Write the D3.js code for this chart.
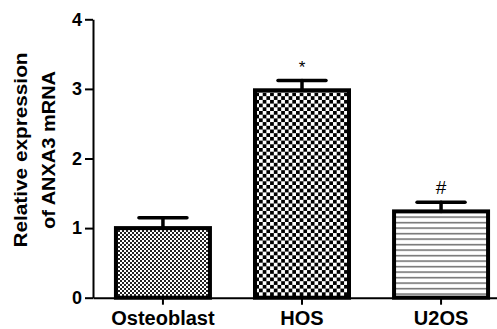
<!DOCTYPE html>
<html>
<head>
<meta charset="utf-8">
<script src="https://cdn.jsdelivr.net/npm/d3@7"></script>
<style>
  html, body { margin: 0; padding: 0; background: #fff; }
  svg { display: block; font-family: 'Liberation Sans', Arial, sans-serif; font-weight: bold; }
</style>
</head>
<body>
<div id="chart"></div>
<script>
// Chart data
var categories = ['Osteoblast', 'HOS', 'U2OS'];
var means = [1.0, 2.98, 1.24];
var errors = [0.15, 0.14, 0.13];
var marks = ['', '*', '#'];
var patterns = ['fine', 'coarse', 'lines'];
var yTicks = [0, 1, 2, 3, 4];
var yLabel = ['Relative expression', 'of ANXA3 mRNA'];

var width = 497;
var height = 329;
var x0 = 93;
var y0 = 297.7;
var fontFamily = "'Liberation Sans', Arial, sans-serif";

var svg = d3.select('#chart')
  .append('svg')
  .attr('width', width)
  .attr('height', height);

// Fill patterns
var defs = svg.append('defs');

var fine = defs.append('pattern')
  .attr('id', 'fine')
  .attr('patternUnits', 'userSpaceOnUse')
  .attr('width', 4)
  .attr('height', 4);
fine.append('rect').attr('width', 4).attr('height', 4).attr('fill', '#fff');
fine.append('rect').attr('width', 2).attr('height', 2).attr('fill', '#222');
fine.append('rect').attr('x', 2).attr('y', 2).attr('width', 2).attr('height', 2).attr('fill', '#222');

var coarse = defs.append('pattern')
  .attr('id', 'coarse')
  .attr('patternUnits', 'userSpaceOnUse')
  .attr('width', 7.4)
  .attr('height', 7.4);
coarse.append('rect').attr('width', 7.4).attr('height', 7.4).attr('fill', '#fff');
coarse.append('rect').attr('width', 3.7).attr('height', 3.7).attr('fill', '#000');
coarse.append('rect').attr('x', 3.7).attr('y', 3.7).attr('width', 3.7).attr('height', 3.7).attr('fill', '#000');

var lines = defs.append('pattern')
  .attr('id', 'lines')
  .attr('patternUnits', 'userSpaceOnUse')
  .attr('width', 8)
  .attr('height', 5.5);
lines.append('rect').attr('width', 8).attr('height', 5.5).attr('fill', '#fff');
lines.append('rect').attr('y', 2).attr('width', 8).attr('height', 1.3).attr('fill', '#555');

// Scales
var x = d3.scaleBand()
  .domain(categories)
  .range([x0, 511])
  .paddingInner(0.324)
  .paddingOuter(0.165);

var y = d3.scaleLinear()
  .domain([0, 4])
  .range([y0, 19.3]);

// Bars
var bars = svg.append('g');
bars.selectAll('rect')
  .data(categories)
  .enter()
  .append('rect')
  .attr('x', function (d) { return x(d); })
  .attr('y', function (d, i) { return y(means[i]); })
  .attr('width', x.bandwidth())
  .attr('height', function (d, i) { return y0 - y(means[i]); })
  .attr('fill', function (d, i) { return 'url(#' + patterns[i] + ')'; })
  .attr('stroke', '#000')
  .attr('stroke-width', 4);

// Error bars
var err = svg.append('g')
  .attr('stroke', '#000')
  .attr('stroke-width', 3.5)
  .attr('stroke-linecap', 'round');
categories.forEach(function (d, i) {
  var cx = x(d) + x.bandwidth() / 2;
  err.append('line')
    .attr('x1', cx).attr('x2', cx)
    .attr('y1', y(means[i])).attr('y2', y(means[i] + errors[i]));
  err.append('line')
    .attr('x1', cx - 24).attr('x2', cx + 24)
    .attr('y1', y(means[i] + errors[i])).attr('y2', y(means[i] + errors[i]));
  if (marks[i]) {
    svg.append('text')
      .attr('x', cx)
      .attr('y', y(means[i] + errors[i]) - 8)
      .attr('text-anchor', 'middle')
      .style('font-weight', 'normal')
      .style('font-size', marks[i] === '*' ? '17px' : '19px')
      .text(marks[i]);
  }
});

// Axes
var yAxis = d3.axisLeft(y)
  .tickValues(yTicks)
  .tickSizeInner(8)
  .tickSizeOuter(0)
  .tickPadding(3)
  .tickFormat(d3.format('d'));

var gy = svg.append('g')
  .attr('transform', 'translate(' + x0 + ',0)')
  .call(yAxis);
gy.select('.domain').attr('stroke-width', 2);
gy.selectAll('.tick line').attr('stroke-width', 2);
gy.selectAll('.tick text')
  .style('font-size', '18px')
  .style('font-family', fontFamily)
  .style('font-weight', 'bold')
  .attr('fill', '#000');

var xAxis = d3.axisBottom(x)
  .tickSizeInner(7)
  .tickSizeOuter(0);

var gx = svg.append('g')
  .attr('transform', 'translate(0,' + y0 + ')')
  .call(xAxis);
gx.select('.domain').attr('stroke-width', 2);
gx.selectAll('.tick line').attr('stroke-width', 2);
gx.selectAll('.tick text')
  .attr('y', 27.3)
  .attr('dy', 0)
  .style('font-size', '20px')
  .style('font-family', fontFamily)
  .style('font-weight', 'bold')
  .attr('fill', '#000');

// Y axis label, two lines
var labelLengths = [195, 158];
yLabel.forEach(function (t, i) {
  svg.append('text')
    .attr('transform', 'translate(' + (27 + 28 * i) + ',150) rotate(-90)')
    .attr('text-anchor', 'middle')
    .attr('textLength', labelLengths[i])
    .attr('lengthAdjust', 'spacingAndGlyphs')
    .style('font-size', '18px')
    .text(t);
});
</script>
</body>
</html>
